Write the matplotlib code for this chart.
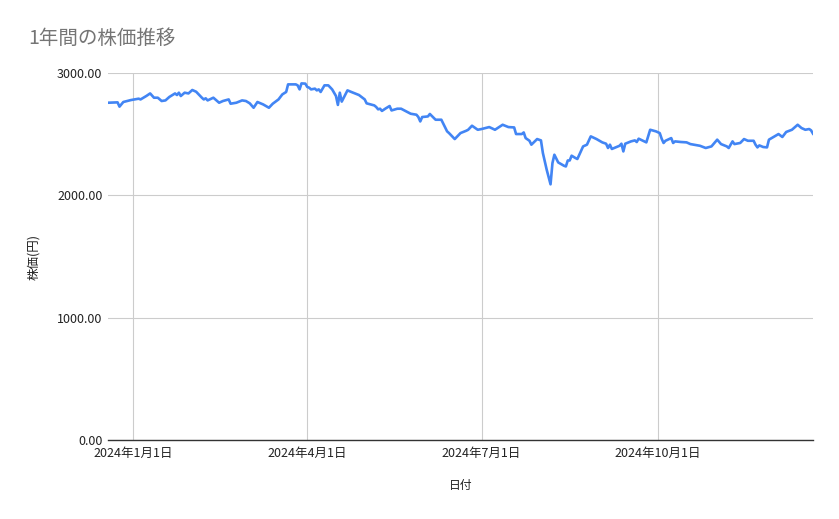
import matplotlib
matplotlib.use("Agg")
import matplotlib.pyplot as plt
import matplotlib.dates as mdates
import pandas as pd

plt.rcParams["font.family"] = ["Noto Sans CJK JP", "DejaVu Sans"]

TITLE = "1年間の株価推移"
X_LABEL = "日付"
Y_LABEL = "株価(円)"

DATES = [
    "2023-12-19", "2023-12-24", "2023-12-25", "2023-12-27", "2023-12-31",
    "2024-01-04", "2024-01-05", "2024-01-08", "2024-01-10", "2024-01-12",
    "2024-01-14", "2024-01-16", "2024-01-18", "2024-01-20", "2024-01-23",
    "2024-01-24", "2024-01-25", "2024-01-26", "2024-01-28", "2024-01-30",
    "2024-02-01", "2024-02-03", "2024-02-06", "2024-02-07", "2024-02-08",
    "2024-02-09", "2024-02-12", "2024-02-15", "2024-02-17", "2024-02-20",
    "2024-02-21", "2024-02-24", "2024-02-27", "2024-02-29", "2024-03-02",
    "2024-03-04", "2024-03-06", "2024-03-09", "2024-03-12", "2024-03-14",
    "2024-03-17", "2024-03-19", "2024-03-21", "2024-03-22", "2024-03-26",
    "2024-03-27", "2024-03-28", "2024-03-29", "2024-03-31", "2024-04-01",
    "2024-04-02", "2024-04-03", "2024-04-05", "2024-04-06", "2024-04-07",
    "2024-04-08", "2024-04-10", "2024-04-12", "2024-04-14", "2024-04-16",
    "2024-04-17", "2024-04-18", "2024-04-19", "2024-04-22", "2024-04-24",
    "2024-04-28", "2024-05-01", "2024-05-02", "2024-05-06", "2024-05-07",
    "2024-05-08", "2024-05-09", "2024-05-10", "2024-05-12", "2024-05-14",
    "2024-05-15", "2024-05-18", "2024-05-20", "2024-05-22", "2024-05-25",
    "2024-05-28", "2024-05-29", "2024-05-30", "2024-05-31", "2024-06-03",
    "2024-06-04", "2024-06-07", "2024-06-10", "2024-06-13", "2024-06-14",
    "2024-06-17", "2024-06-20", "2024-06-23", "2024-06-24", "2024-06-26",
    "2024-06-29", "2024-07-01", "2024-07-05", "2024-07-08", "2024-07-12",
    "2024-07-15", "2024-07-18", "2024-07-19", "2024-07-22", "2024-07-23",
    "2024-07-24", "2024-07-26", "2024-07-27", "2024-07-30", "2024-08-01",
    "2024-08-02", "2024-08-04", "2024-08-06", "2024-08-07", "2024-08-08",
    "2024-08-10", "2024-08-13", "2024-08-14", "2024-08-15", "2024-08-16",
    "2024-08-17", "2024-08-19", "2024-08-20", "2024-08-22", "2024-08-23",
    "2024-08-25", "2024-08-27", "2024-08-30", "2024-09-02", "2024-09-04",
    "2024-09-05", "2024-09-06", "2024-09-07", "2024-09-11", "2024-09-12",
    "2024-09-13", "2024-09-14", "2024-09-17", "2024-09-19", "2024-09-20",
    "2024-09-21", "2024-09-25", "2024-09-27", "2024-09-30", "2024-10-02",
    "2024-10-03", "2024-10-04", "2024-10-05", "2024-10-08", "2024-10-09",
    "2024-10-10", "2024-10-13", "2024-10-16", "2024-10-18", "2024-10-23",
    "2024-10-26", "2024-10-29", "2024-11-01", "2024-11-03", "2024-11-06",
    "2024-11-07", "2024-11-09", "2024-11-10", "2024-11-13", "2024-11-15",
    "2024-11-17", "2024-11-20", "2024-11-21", "2024-11-22", "2024-11-23",
    "2024-11-25", "2024-11-27", "2024-11-28", "2024-12-01", "2024-12-03",
    "2024-12-05", "2024-12-07", "2024-12-10", "2024-12-12", "2024-12-13",
    "2024-12-15", "2024-12-17", "2024-12-19", "2024-12-20", "2024-12-21",
]

PRICES = [
    2757, 2760, 2725, 2763, 2779,
    2790, 2784, 2812, 2833, 2798,
    2798, 2771, 2776, 2804, 2833,
    2820, 2839, 2812, 2839, 2833,
    2861, 2847, 2798, 2784, 2793,
    2776, 2798, 2757, 2771, 2784,
    2749, 2757, 2776, 2771, 2752,
    2716, 2763, 2743, 2716, 2749,
    2784, 2825, 2845, 2907, 2907,
    2899, 2866, 2915, 2913, 2886,
    2880, 2866, 2872, 2858, 2866,
    2845, 2899, 2899, 2866, 2812,
    2739, 2839, 2766, 2858, 2845,
    2820, 2784, 2752, 2735, 2722,
    2703, 2708, 2690, 2711, 2730,
    2694, 2708, 2708, 2692, 2667,
    2659, 2640, 2604, 2640, 2645,
    2665, 2618, 2618, 2523, 2509,
    2460, 2509, 2528, 2536, 2569,
    2536, 2542, 2558, 2536, 2577,
    2558, 2555, 2501, 2501, 2514,
    2468, 2446, 2414, 2460, 2449,
    2346, 2209, 2090, 2264, 2332,
    2269, 2242, 2236, 2285, 2285,
    2324, 2305, 2297, 2367, 2400,
    2414, 2482, 2460, 2433, 2422,
    2387, 2414, 2379, 2405, 2422,
    2359, 2422, 2441, 2449, 2436,
    2463, 2433, 2536, 2523, 2509,
    2463, 2428, 2446, 2468, 2428,
    2441, 2436, 2433, 2419, 2405,
    2387, 2400, 2455, 2419, 2400,
    2387, 2441, 2419, 2428, 2460,
    2446, 2446, 2414, 2392, 2408,
    2395, 2392, 2455, 2482, 2501,
    2477, 2518, 2536, 2563, 2577,
    2550, 2536, 2542, 2531, 2504,
]

TICK_DATES = ["2024-01-01", "2024-04-01", "2024-07-01", "2024-10-01"]
TICK_LABELS = ["2024年1月1日", "2024年4月1日", "2024年7月1日", "2024年10月1日"]
Y_TICKS = [0, 1000, 2000, 3000]


def main():
    df = pd.DataFrame({"date": pd.to_datetime(DATES), "price": PRICES})

    fig = plt.figure(figsize=(8.39, 5.19), dpi=100)
    ax = fig.add_axes([108 / 839, 1 - 440 / 519, 705 / 839, 367 / 519])

    ax.plot(df["date"], df["price"], color="#4285f4", linewidth=1.9,
            solid_joinstyle="round")

    ax.set_xlim(df["date"].iloc[0], df["date"].iloc[-1])
    ax.set_ylim(0, 3000)

    ax.set_yticks(Y_TICKS)
    ax.set_yticklabels([f"{v:.2f}" for v in Y_TICKS])
    ax.set_xticks(mdates.date2num(pd.to_datetime(TICK_DATES)))
    ax.set_xticklabels(TICK_LABELS)

    ax.grid(True, color="#cccccc", linewidth=0.8)
    ax.set_axisbelow(True)
    ax.tick_params(length=0, labelsize=9, labelcolor="#222222")
    ax.tick_params(axis="x", pad=5)
    ax.tick_params(axis="y", pad=4)

    for side in ["top", "right", "left"]:
        ax.spines[side].set_visible(False)
    ax.spines["bottom"].set_color("#333333")
    ax.spines["bottom"].set_linewidth(1.0)

    ax.set_xlabel(X_LABEL, fontsize=8.5, color="#222222", labelpad=14)
    ax.set_ylabel(Y_LABEL, fontsize=9, color="#222222", labelpad=12)

    fig.text(28 / 839, 1 - 38 / 519, TITLE, fontsize=14, color="#757575",
             va="center", ha="left")

    fig.savefig("out.png", dpi=100, facecolor="white")


if __name__ == "__main__":
    main()
